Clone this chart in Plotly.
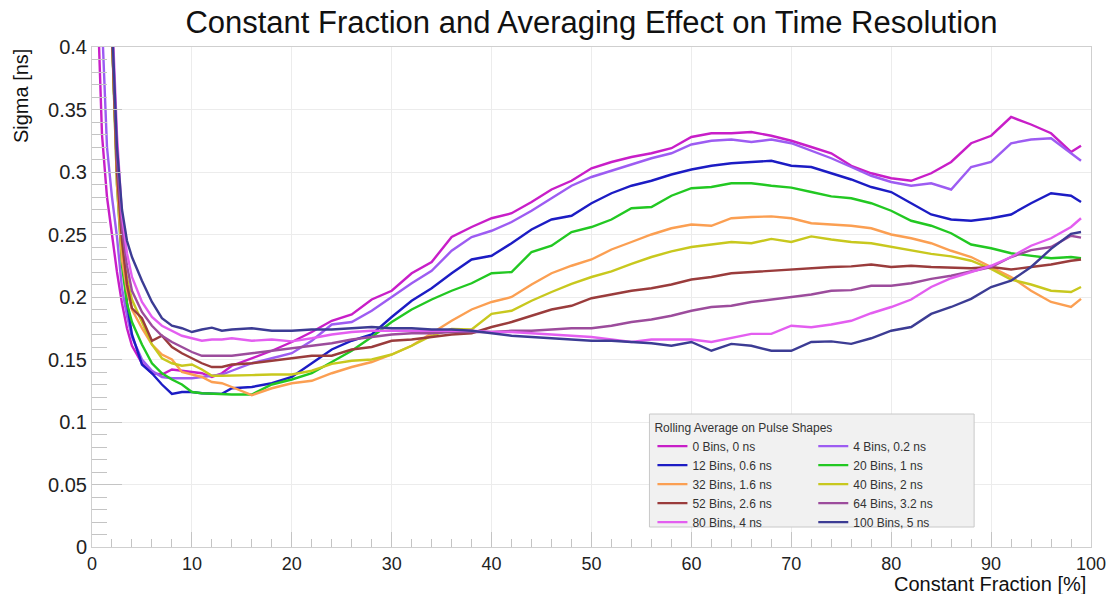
import plotly.graph_objects as go

# Constant fraction [%] sample positions
X = [0, 0.5, 1, 1.5, 2, 2.5, 3, 3.5, 4,
     5, 6, 7, 8, 9, 10, 11, 12, 13, 14,
     16, 18, 20, 22, 24, 26, 28, 30, 32, 34, 36, 38, 40, 42, 44, 46, 48, 50, 52, 54,
     56, 58, 60, 62, 64, 66, 68, 70, 72, 74, 76, 78, 80, 82, 84, 86, 88, 90, 92, 94,
     96, 98, 99]

N = None
bins0 = [0.60, 0.45, 0.33, 0.28, 0.25, 0.22, 0.195, 0.175, 0.161,
         0.147, 0.139, 0.138, 0.142, 0.141, 0.140, 0.139, 0.136, 0.139, 0.145,
         0.151, 0.157, 0.164, 0.172, 0.181, 0.186, 0.198, 0.205, 0.219, 0.228,
         0.248, 0.256, 0.263, 0.267, 0.276, 0.286, 0.293, 0.303, 0.308, 0.312,
         0.315, 0.319, 0.328, 0.331, 0.331, 0.332, 0.329, 0.325, 0.320, 0.315,
         0.305, 0.299, 0.295, 0.293, 0.299, 0.308, 0.323, 0.329, 0.344, 0.338,
         0.331, 0.316, 0.321]
bins4 = [0.70, 0.55, 0.42, 0.32, 0.28, 0.248, 0.207, 0.185, 0.168,
         0.150, 0.141, 0.136, 0.135, 0.135, 0.135, 0.136, 0.137, 0.138, 0.141,
         0.147, 0.151, 0.155, 0.165, 0.178, 0.180, 0.189, 0.200, 0.211, 0.221,
         0.237, 0.248, 0.253, 0.260, 0.269, 0.279, 0.289, 0.296, 0.301, 0.306,
         0.311, 0.315, 0.322, 0.325, 0.326, 0.324, 0.326, 0.323, 0.317, 0.311,
         0.304, 0.297, 0.292, 0.289, 0.291, 0.286, 0.304, 0.308, 0.323, 0.326,
         0.327, 0.315, 0.309]
bins12 = [N, N, N, 0.60, 0.41, 0.30, 0.235, 0.195, 0.170,
          0.146, 0.139, 0.130, 0.1225, 0.124, 0.124, 0.123, 0.123, 0.1225, 0.127,
          0.128, 0.131, 0.136, 0.147, 0.158, 0.165, 0.170, 0.184, 0.197, 0.207,
          0.219, 0.230, 0.233, 0.243, 0.254, 0.262, 0.265, 0.275, 0.283, 0.289,
          0.293, 0.298, 0.302, 0.305, 0.307, 0.308, 0.309, 0.305, 0.304, 0.299,
          0.294, 0.288, 0.284, 0.275, 0.266, 0.262, 0.261, 0.263, 0.266, 0.275,
          0.283, 0.281, 0.276]
bins20 = [N, N, N, 0.60, 0.41, 0.29, 0.225, 0.195, 0.180,
          0.162, 0.147, 0.139, 0.134, 0.130, 0.124, 0.123, 0.1225, 0.122, 0.122,
          0.122, 0.130, 0.134, 0.139, 0.148, 0.157, 0.168, 0.180, 0.190, 0.198,
          0.205, 0.211, 0.219, 0.220, 0.236, 0.241, 0.252, 0.256, 0.262, 0.271,
          0.272, 0.281, 0.287, 0.288, 0.291, 0.291, 0.289, 0.2875, 0.284, 0.2805,
          0.279, 0.275, 0.269, 0.261, 0.257, 0.251, 0.242, 0.239, 0.235, 0.233,
          0.231, 0.232, 0.231]
bins32 = [N, N, N, 0.60, 0.41, 0.29, 0.23, 0.205, 0.190,
          0.175, 0.162, 0.154, 0.150, 0.140, 0.138, 0.136, 0.132, 0.131, 0.128,
          0.1215, 0.127, 0.131, 0.133, 0.139, 0.144, 0.148, 0.154, 0.161, 0.171,
          0.181, 0.190, 0.196, 0.200, 0.210, 0.219, 0.225, 0.230, 0.238, 0.244,
          0.250, 0.255, 0.258, 0.257, 0.263, 0.264, 0.2645, 0.263, 0.259, 0.258,
          0.257, 0.255, 0.250, 0.247, 0.243, 0.237, 0.232, 0.224, 0.216, 0.205,
          0.196, 0.192, 0.1985]
bins40 = [N, N, N, 0.60, 0.41, 0.30, 0.24, 0.215, 0.198,
          0.180, 0.162, 0.151, 0.147, 0.145, 0.146, 0.142, 0.137, 0.137, 0.137,
          0.1375, 0.138, 0.138, 0.141, 0.1465, 0.149, 0.150, 0.154, 0.161, 0.169,
          0.1745, 0.174, 0.1865, 0.189, 0.197, 0.204, 0.2105, 0.216, 0.2205, 0.2265,
          0.232, 0.2365, 0.240, 0.242, 0.244, 0.243, 0.2465, 0.244, 0.2485, 0.246,
          0.244, 0.243, 0.240, 0.237, 0.2345, 0.2325, 0.229, 0.2225, 0.214, 0.210,
          0.205, 0.204, 0.208]
bins52 = [N, N, N, 0.60, 0.41, 0.30, 0.245, 0.21, 0.191,
          0.183, 0.165, 0.169, 0.160, 0.155, 0.151, 0.147, 0.144, 0.144, 0.146,
          0.147, 0.149, 0.151, 0.153, 0.153, 0.158, 0.160, 0.165, 0.166, 0.168,
          0.170, 0.171, 0.176, 0.180, 0.185, 0.190, 0.193, 0.199, 0.202, 0.205,
          0.207, 0.210, 0.214, 0.216, 0.219, 0.220, 0.2215, 0.2225, 0.223, 0.224,
          0.2245, 0.226, 0.224, 0.225, 0.224, 0.2235, 0.223, 0.224, 0.222, 0.224,
          0.226, 0.229, 0.230]
bins64 = [N, N, N, 0.60, 0.42, 0.31, 0.255, 0.225, 0.205,
          0.188, 0.177, 0.169, 0.164, 0.160, 0.156, 0.153, 0.153, 0.153, 0.153,
          0.155, 0.157, 0.159, 0.161, 0.163, 0.166, 0.168, 0.170, 0.171, 0.171,
          0.172, 0.172, 0.172, 0.173, 0.173, 0.174, 0.175, 0.175, 0.177, 0.180,
          0.182, 0.185, 0.189, 0.192, 0.193, 0.196, 0.198, 0.200, 0.202, 0.205,
          0.2055, 0.209, 0.209, 0.211, 0.2145, 0.217, 0.2205, 0.224, 0.232, 0.2375,
          0.240, 0.249, 0.2475]
bins80 = [N, N, N, 0.60, 0.43, 0.33, 0.265, 0.235, 0.216,
          0.196, 0.184, 0.177, 0.173, 0.169, 0.167, 0.165, 0.166, 0.166, 0.167,
          0.165, 0.166, 0.1645, 0.167, 0.170, 0.172, 0.173, 0.173, 0.173, 0.173,
          0.173, 0.173, 0.172, 0.172, 0.171, 0.170, 0.169, 0.168, 0.166, 0.164,
          0.166, 0.166, 0.166, 0.164, 0.167, 0.1705, 0.1705, 0.177, 0.1758, 0.178,
          0.181, 0.187, 0.192, 0.198, 0.208, 0.215, 0.220, 0.225, 0.232, 0.241,
          0.247, 0.256, 0.263]
bins100 = [N, N, N, 0.60, 0.42, 0.32, 0.27, 0.245, 0.232,
           0.213, 0.196, 0.183, 0.177, 0.175, 0.172, 0.174, 0.1755, 0.173, 0.174,
           0.175, 0.173, 0.173, 0.174, 0.174, 0.175, 0.176, 0.175, 0.175, 0.174,
           0.174, 0.173, 0.171, 0.169, 0.168, 0.167, 0.166, 0.165, 0.165, 0.164,
           0.163, 0.161, 0.164, 0.157, 0.1625, 0.161, 0.157, 0.157, 0.164, 0.1645,
           0.1625, 0.167, 0.173, 0.176, 0.1865, 0.192, 0.1985, 0.208, 0.213, 0.224,
           0.2385, 0.2505, 0.252]

names = ["0 Bins, 0 ns", "4 Bins, 0.2 ns", "12 Bins, 0.6 ns", "20 Bins, 1 ns",
         "32 Bins, 1.6 ns", "40 Bins, 2 ns", "52 Bins, 2.6 ns", "64 Bins, 3.2 ns",
         "80 Bins, 4 ns", "100 Bins, 5 ns"]
series = [bins0, bins4, bins12, bins20, bins32, bins40, bins52, bins64, bins80, bins100]
colors = ["#c81ec8", "#9d5cf2", "#1c1cc4", "#22c822", "#fb9f52",
          "#c8c81e", "#9a3c3c", "#9c4c9c", "#e35ef0", "#3c3c94"]
legend_ids = ["legend", "legend2"] * 5

FONT = "Liberation Sans, Arial, sans-serif"

fig = go.Figure()
for name, ys, col, lg in zip(names, series, colors, legend_ids):
    fig.add_trace(go.Scatter(x=X, y=ys, mode="lines", name=name,
                             line=dict(color=col, width=2.4),
                             legend=lg, connectgaps=False))

axis_common = dict(showgrid=True, gridcolor="#ececec", gridwidth=1,
                   showline=True, linecolor="#cfcfcf", linewidth=1, mirror=True,
                   ticks="inside", tickcolor="#c4c4c4", zeroline=False)

fig.update_layout(
    width=1118, height=594,
    margin=dict(l=92, r=22, t=47, b=47),
    paper_bgcolor="white", plot_bgcolor="white",
    font=dict(family=FONT, color="#222222"),
    title=dict(text="Constant Fraction and Averaging Effect on Time Resolution",
               x=0.5, xref="paper", xanchor="center",
               y=1 - 22 / 594, yref="container", yanchor="middle",
               font=dict(family=FONT, size=31, color="#111111")),
    xaxis=dict(range=[0, 100], dtick=10, tick0=0, ticklen=15,
               tickfont=dict(family=FONT, size=18, color="#222222"),
               minor=dict(dtick=2, ticklen=8, ticks="inside", tickcolor="#c4c4c4", showgrid=False),
               **axis_common),
    yaxis=dict(range=[0, 0.4], dtick=0.05, tick0=0, ticklen=30,
               tickfont=dict(family=FONT, size=20, color="#222222"),
               minor=dict(dtick=0.01, ticklen=15, ticks="inside", tickcolor="#c4c4c4", showgrid=False),
               **axis_common),
    showlegend=True,
    legend=dict(x=0.561, y=0.262, xanchor="left", yanchor="top",
                bgcolor="rgba(0,0,0,0)", borderwidth=0, tracegroupgap=0,
                font=dict(family=FONT, size=12, color="#333333"),
                title=dict(text="Rolling Average on Pulse Shapes",
                           font=dict(family=FONT, size=12, color="#333333"))),
    legend2=dict(x=0.722, y=0.262, xanchor="left", yanchor="top",
                 bgcolor="rgba(0,0,0,0)", borderwidth=0, tracegroupgap=0,
                 font=dict(family=FONT, size=12, color="#333333"),
                 title=dict(text="\u00a0", font=dict(family=FONT, size=12, color="#333333"))),
    shapes=[dict(type="rect", xref="paper", yref="paper",
                 x0=0.558, x1=0.883, y0=0.040, y1=0.266,
                 fillcolor="#f1f1f1", line=dict(color="#c8c8c8", width=1), layer="above")],
    annotations=[
        dict(text="Sigma [ns]", xref="paper", yref="paper", x=-0.071, y=1,
             xanchor="center", yanchor="top", textangle=-90, showarrow=False,
             font=dict(family=FONT, size=20, color="#111111")),
        dict(text="Constant Fraction [%]", xref="paper", yref="paper", x=0.997, y=-0.074,
             xanchor="right", yanchor="middle", showarrow=False,
             font=dict(family=FONT, size=20, color="#111111")),
    ],
)

fig.write_html("out.html")
